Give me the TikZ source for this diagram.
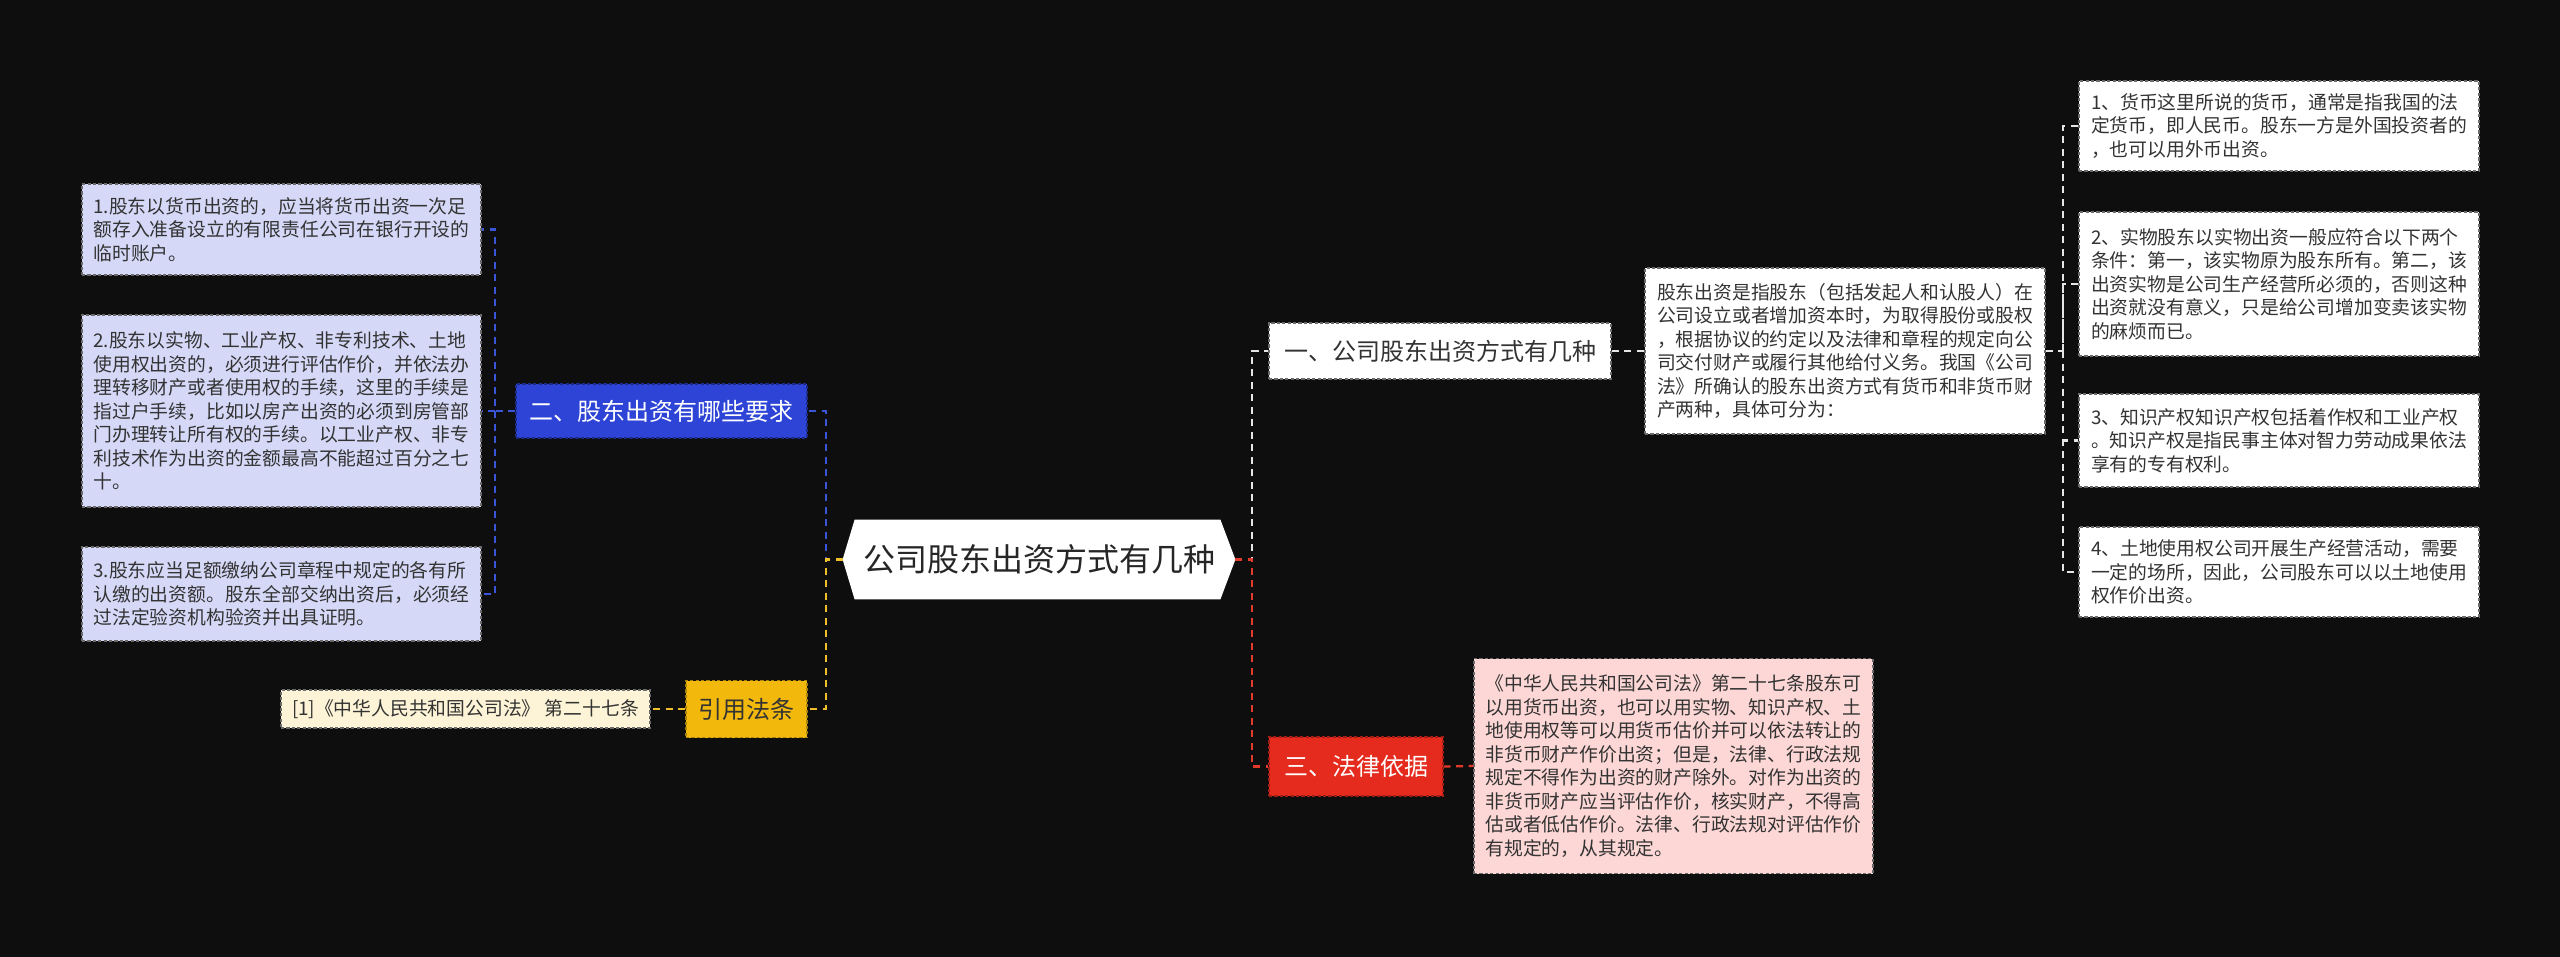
\documentclass[tikz,border=0pt]{standalone}
\usepackage{fontspec}
\newfontfamily\cjk{Noto Sans CJK SC}
\pgfdeclarelayer{back}
\pgfdeclarelayer{mid}
\pgfsetlayers{back,mid,main}
\definecolor{bgc}{HTML}{0E0E0E}
\definecolor{txt}{HTML}{333333}
\definecolor{bluef}{HTML}{2D44D6}
\definecolor{bluel}{HTML}{3A55D8}
\definecolor{lav}{HTML}{D5D8F7}
\definecolor{yelf}{HTML}{F2B80C}
\definecolor{yell}{HTML}{EFC02A}
\definecolor{cream}{HTML}{FDF3D6}
\definecolor{redf}{HTML}{E52B1D}
\definecolor{redl}{HTML}{E23B2C}
\definecolor{pinkf}{HTML}{FCD7D5}
\definecolor{whl}{HTML}{E6E6E6}
\definecolor{leafb}{HTML}{6A6A6A}
\begin{document}
\begin{tikzpicture}[x=0.5pt,y=-0.5pt,
  box/.style={anchor=center, inner sep=0pt, dashed, dash pattern=on 1.6pt off 1.1pt, line width=0.6pt},
  leaf/.style={box, draw=leafb, text=txt, align=left, font=\cjk\fontsize{9.4}{11.75}\selectfont},
  branch/.style={box, font=\cjk\fontsize{12}{14}\selectfont},
  link/.style={dashed, dash pattern=on 3.5pt off 2.75pt, line width=1.1pt},
]
\begin{pgfonlayer}{back}
\fill[bgc] (0,0) rectangle (2560,957);
\end{pgfonlayer}
\useasboundingbox (0,0) rectangle (2560,957);

% central
\node[anchor=center, minimum width=196pt, minimum height=39.5pt, inner sep=0pt,
      font=\cjk\fontsize{16}{18}\selectfont, text=black!85] (c) at (1039,559.5) {公司股东出资方式有几种};
\begin{pgfonlayer}{mid}
\fill[white] (c.west) -- ([xshift=6pt]c.north west) -- ([xshift=-7.5pt]c.north east) -- (c.east)
  -- ([xshift=-7.5pt]c.south east) -- ([xshift=6pt]c.south west) -- cycle;
\end{pgfonlayer}

% left branch: requirements
\node[branch, fill=bluef, draw=bluef!65!black, text=white, minimum width=145.5pt, minimum height=27pt] (b2) at (661.5,411) {二、股东出资有哪些要求};
\node[leaf, fill=lav, minimum width=199.5pt, minimum height=45.5pt] (L1) at (281.5,229.5) {1.股东以货币出资的，应当将货币出资一次足\\额存入准备设立的有限责任公司在银行开设的\\临时账户。};
\node[leaf, fill=lav, minimum width=199.5pt, minimum height=96pt] (L2) at (281.5,411) {2.股东以实物、工业产权、非专利技术、土地\\使用权出资的，必须进行评估作价，并依法办\\理转移财产或者使用权的手续，这里的手续是\\指过户手续，比如以房产出资的必须到房管部\\门办理转让所有权的手续。以工业产权、非专\\利技术作为出资的金额最高不能超过百分之七\\十。};
\node[leaf, fill=lav, minimum width=199.5pt, minimum height=47pt] (L3) at (281.5,594) {3.股东应当足额缴纳公司章程中规定的各有所\\认缴的出资额。股东全部交纳出资后，必须经\\过法定验资机构验资并出具证明。};

% left branch: cited law
\node[branch, fill=yelf, draw=yelf!70!black, text=txt, minimum width=60.5pt, minimum height=28.5pt] (y) at (746.5,709) {引用法条};
\node[leaf, fill=cream, minimum width=184.5pt, minimum height=19pt] (cite) at (465.5,709) {[1]《中华人民共和国公司法》 第二十七条};

% right branch 1
\node[branch, fill=white, draw=leafb, text=txt, minimum width=171pt, minimum height=28pt] (n1) at (1440,351) {一、公司股东出资方式有几种};
\node[leaf, fill=white, minimum width=200pt, minimum height=83pt] (d1) at (1845,351) {股东出资是指股东（包括发起人和认股人）在\\公司设立或者增加资本时，为取得股份或股权\\，根据协议的约定以及法律和章程的规定向公\\司交付财产或履行其他给付义务。我国《公司\\法》所确认的股东出资方式有货币和非货币财\\产两种，具体可分为：};
\node[leaf, fill=white, minimum width=200pt, minimum height=45pt] (R1) at (2279,126) {1、货币这里所说的货币，通常是指我国的法\\定货币，即人民币。股东一方是外国投资者的\\，也可以用外币出资。};
\node[leaf, fill=white, minimum width=200pt, minimum height=72pt] (R2) at (2279,284) {2、实物股东以实物出资一般应符合以下两个\\条件：第一，该实物原为股东所有。第二，该\\出资实物是公司生产经营所必须的，否则这种\\出资就没有意义，只是给公司增加变卖该实物\\的麻烦而已。};
\node[leaf, fill=white, minimum width=200pt, minimum height=46.5pt] (R3) at (2279,440.5) {3、知识产权知识产权包括着作权和工业产权\\。知识产权是指民事主体对智力劳动成果依法\\享有的专有权利。};
\node[leaf, fill=white, minimum width=200pt, minimum height=45pt] (R4) at (2279,572) {4、土地使用权公司开展生产经营活动，需要\\一定的场所，因此，公司股东可以以土地使用\\权作价出资。};

% right branch 3
\node[branch, fill=redf, draw=redf!70!black, text=white, minimum width=87pt, minimum height=29.5pt] (r3) at (1356,766.5) {三、法律依据};
\node[leaf, fill=pinkf, minimum width=199.5pt, minimum height=107.5pt] (rd) at (1673.5,766) {《中华人民共和国公司法》第二十七条股东可\\以用货币出资，也可以用实物、知识产权、土\\地使用权等可以用货币估价并可以依法转让的\\非货币财产作价出资；但是，法律、行政法规\\规定不得作为出资的财产除外。对作为出资的\\非货币财产应当评估作价，核实财产，不得高\\估或者低估作价。法律、行政法规对评估作价\\有规定的，从其规定。};

% spine points
\coordinate (ls) at (826,559.5);
\coordinate (rs) at (1252,559.5);
\coordinate (bs) at (495,411);
\coordinate (ds) at (2063,351);

% connectors
\draw[link, draw=bluel] (c.west) -- (ls) |- (b2.east);
\draw[link, draw=bluel] (b2.west) -- (bs) |- (L1.east);
\draw[link, draw=bluel] (bs) -- (L2.east);
\draw[link, draw=bluel] (bs) |- (L3.east);
\draw[link, draw=yell] (c.west) -- (ls) |- (y.east);
\draw[link, draw=yell] (y.west) -- (cite.east);
\draw[link, draw=whl] (c.east) -- (rs) |- (n1.west);
\draw[link, draw=whl] (n1.east) -- (d1.west);
\draw[link, draw=whl] (d1.east) -- (ds) |- (R1.west);
\draw[link, draw=whl] (ds) |- (R2.west);
\draw[link, draw=whl] (ds) |- (R3.west);
\draw[link, draw=whl] (ds) |- (R4.west);
\draw[link, draw=redl] (c.east) -- (rs) |- (r3.west);
\draw[link, draw=redl] (r3.east) -- (rd.west);
\end{tikzpicture}
\end{document}
